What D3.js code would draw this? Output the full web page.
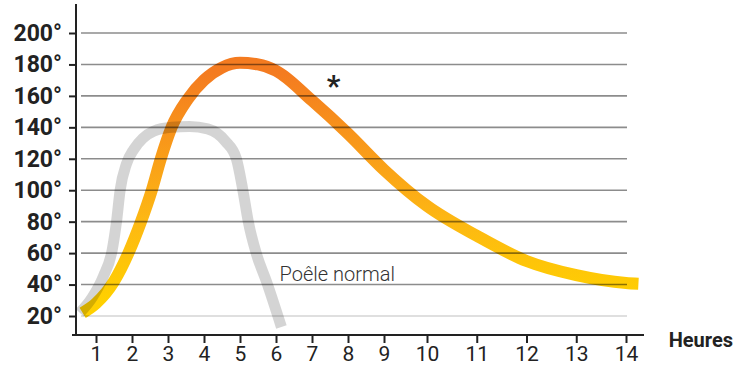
<!DOCTYPE html>
<html>
<head>
<meta charset="utf-8">
<script src="https://cdn.jsdelivr.net/npm/d3@7"></script>
<style>
  body { margin: 0; background: #fff; }
  svg { display: block; }
  svg text { font-family: Roboto, "Noto Sans", sans-serif; }
</style>
</head>
<body>
<div id="chart"></div>
<script>
// tick labels
const hours = [1, 2, 3, 4, 5, 6, 7, 8, 9, 10, 11, 12, 13, 14];
const temps = [20, 40, 60, 80, 100, 120, 140, 160, 180, 200];

// poêle à accumulation (courbe orange) : [heure, température]
const stoveHours = [0.63, 1, 1.5, 1.9, 2.25, 2.55, 2.8, 3.1, 3.55, 4, 4.5, 5, 5.5, 6, 7, 8, 9, 10, 11, 12, 13, 14, 14.25];
const stoveTemps = [22, 28, 42, 60, 80, 100, 120, 140, 158, 170, 178, 181, 180, 176, 157, 136, 113, 90, 71, 55, 46, 41, 40.5];

// poêle normal (courbe grise)
const normalHours = [0.55, 0.9, 1.2, 1.45, 1.57, 1.67, 1.85, 2.05, 2.3, 2.6, 3.1, 3.6, 4.1, 4.6, 4.9, 5.08, 5.23, 5.45, 5.75, 6.15];
const normalTemps = [22, 32, 45, 62, 80, 100, 117, 126, 133, 137.5, 140, 140.5, 139, 131, 120, 100, 80, 60, 41, 13];

const W = 736, H = 365;
const margin = { t: 33, r: 110, b: 49, l: 96 };

const svg = d3.select('#chart').append('svg')
  .attr('width', W)
  .attr('height', H);

// the hour axis is not regular: 1-9 are tighter than 10-14
const x = d3.scaleLinear()
  .domain([1, 9, 10, 14])
  .range([margin.l, margin.l + 288, margin.l + 331, W - margin.r]);

const y = d3.scaleLinear()
  .domain([20, 200])
  .range([H - margin.b, margin.t]);

const stove = stoveHours.map((h, i) => [h, stoveTemps[i]]);
const normal = normalHours.map((h, i) => [h, normalTemps[i]]);

const line = d3.line()
  .x(d => x(d[0]))
  .y(d => y(d[1]))
  .curve(d3.curveMonotoneX);

// vertical gradient yellow -> orange
const grad = svg.append('defs').append('linearGradient')
  .attr('id', 'warm')
  .attr('gradientUnits', 'userSpaceOnUse')
  .attr('x1', 0).attr('x2', 0)
  .attr('y1', y(30)).attr('y2', y(175));
grad.append('stop').attr('offset', '0%').attr('stop-color', '#ffd000');
grad.append('stop').attr('offset', '35%').attr('stop-color', '#fdb813');
grad.append('stop').attr('offset', '100%').attr('stop-color', '#f47b20');

svg.append('path')
  .datum(stove)
  .attr('d', line)
  .attr('fill', 'none')
  .attr('stroke', 'url(#warm)')
  .attr('stroke-width', 12);

svg.append('path')
  .datum(normal)
  .attr('d', line)
  .attr('fill', 'none')
  .attr('stroke', '#000')
  .attr('stroke-opacity', 0.17)
  .attr('stroke-width', 11);

// grid, drawn over the curves
svg.append('g')
  .selectAll('line')
  .data(temps)
  .join('line')
  .attr('x1', margin.l - 15)
  .attr('x2', x(14) + 1)
  .attr('y1', d => y(d))
  .attr('y2', d => y(d))
  .attr('stroke', '#000')
  .attr('stroke-opacity', d => d === 20 ? 0.17 : 0.45)
  .attr('stroke-width', 1.6);

// y axis
const axisY = d3.axisLeft(y)
  .tickValues(temps)
  .tickSize(7)
  .tickPadding(7)
  .tickFormat(d => d + '°');

svg.append('g')
  .attr('transform', `translate(${margin.l - 20}, 0)`)
  .call(axisY)
  .call(g => g.select('.domain').remove())
  .call(g => g.selectAll('line').attr('stroke', '#222').attr('stroke-width', 2))
  .call(g => g.selectAll('text')
    .attr('fill', '#222')
    .style('font-size', '23px')
    .style('font-weight', 'bold'));

svg.append('line')
  .attr('x1', margin.l - 20).attr('x2', margin.l - 20)
  .attr('y1', 4).attr('y2', H - margin.b + 20)
  .attr('stroke', '#222')
  .attr('stroke-width', 2);

// x axis
const axisX = d3.axisBottom(x)
  .tickValues(hours)
  .tickSize(8)
  .tickPadding(3)
  .tickFormat(d3.format('d'));

svg.append('g')
  .attr('transform', `translate(0, ${H - margin.b + 19})`)
  .call(axisX)
  .call(g => g.select('.domain').remove())
  .call(g => g.selectAll('line').attr('stroke', '#222').attr('stroke-width', 2))
  .call(g => g.selectAll('text')
    .attr('fill', '#222')
    .style('font-size', '21px'));

svg.append('line')
  .attr('x1', margin.l - 24).attr('x2', x(14) + 18)
  .attr('y1', H - margin.b + 19).attr('y2', H - margin.b + 19)
  .attr('stroke', '#222')
  .attr('stroke-width', 2);

svg.append('text')
  .attr('x', W - 3)
  .attr('y', H - 18)
  .attr('text-anchor', 'end')
  .attr('fill', '#222')
  .style('font-size', '20px')
  .style('font-weight', 'bold')
  .text('Heures');

svg.append('text')
  .attr('x', x(6.1))
  .attr('y', y(42))
  .attr('fill', '#333')
  .style('font-size', '20px')
  .style('font-weight', 300)
  .text('Poêle normal');

svg.append('text')
  .attr('x', x(7.6))
  .attr('y', y(160))
  .attr('text-anchor', 'middle')
  .attr('fill', '#222')
  .style('font-size', '30px')
  .style('font-weight', 'bold')
  .text('*');
</script>
</body>
</html>
